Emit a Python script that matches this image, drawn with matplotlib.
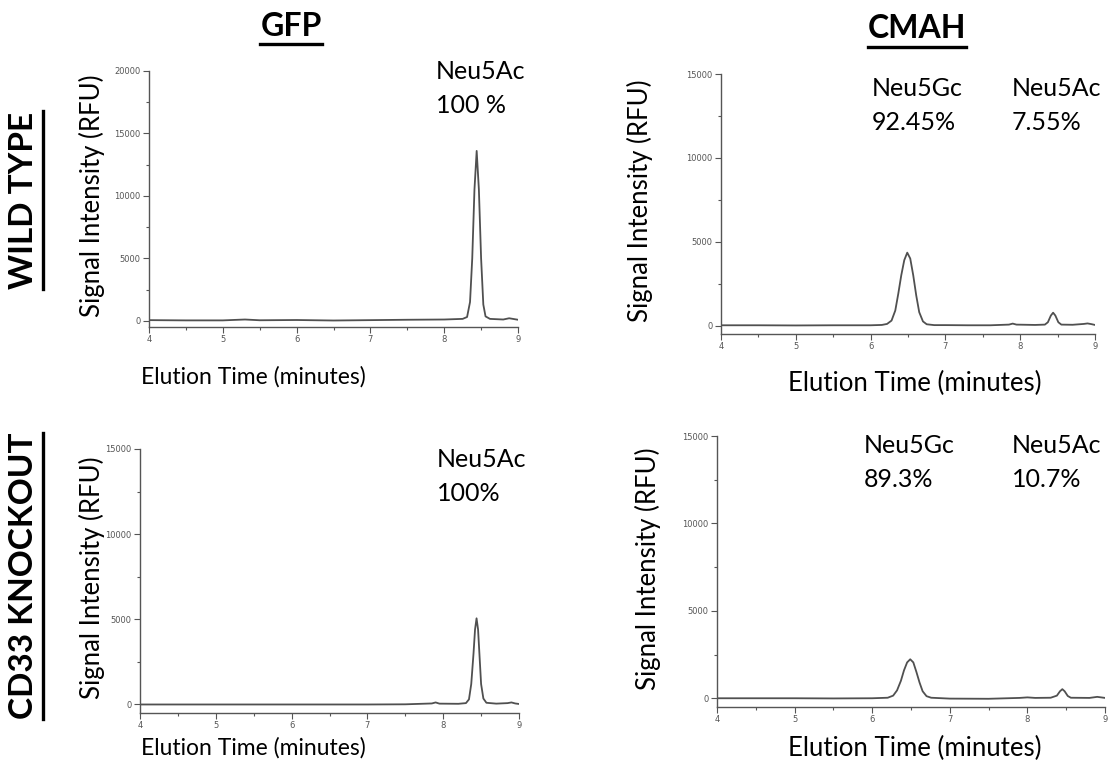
import matplotlib
matplotlib.use('Agg')
import matplotlib.pyplot as plt
from matplotlib.lines import Line2D
from matplotlib.ticker import MultipleLocator

# GFP, wild type
gfp_wt_time = [4.0, 4.5, 5.0, 5.3, 5.5, 6.0, 6.5, 7.0, 7.5, 8.0, 8.25, 8.31, 8.35, 8.38, 8.41, 8.44,
               8.47, 8.50, 8.53, 8.56, 8.62, 8.8, 8.88, 8.93, 9.0]
gfp_wt_rfu = [50, 30, 30, 100, 40, 60, 20, 50, 80, 100, 150, 300, 1500, 5000, 10500, 13600,
              10500, 5000, 1300, 350, 150, 100, 200, 150, 80]

# CMAH, wild type
cmah_wt_time = [4.0, 4.5, 5.0, 5.5, 6.0, 6.15, 6.22, 6.28, 6.33, 6.37, 6.41, 6.45, 6.49, 6.53, 6.57,
                6.61, 6.65, 6.70, 6.75, 6.85, 7.0, 7.3, 7.6, 7.85, 7.9, 7.95, 8.2, 8.33, 8.37, 8.41,
                8.44, 8.47, 8.51, 8.55, 8.7, 8.85, 8.9, 8.95, 9.0]
cmah_wt_rfu = [20, 20, 10, 20, 20, 40, 100, 300, 900, 1900, 3000, 3900, 4350, 4000, 3000,
               1800, 800, 250, 80, 30, 30, 20, 20, 60, 120, 60, 40, 60, 200, 600,
               770, 600, 200, 60, 50, 100, 130, 90, 40]

# GFP, CD33 knockout
gfp_ko_time = [4.0, 5.0, 6.0, 7.0, 7.5, 7.85, 7.9, 7.95, 8.2, 8.3, 8.34, 8.37, 8.40, 8.42, 8.44,
               8.46, 8.48, 8.50, 8.53, 8.57, 8.7, 8.85, 8.9, 8.95, 9.0]
gfp_ko_rfu = [0, 0, 0, 0, 10, 60, 120, 50, 40, 80, 300, 1200, 3000, 4400, 5060,
              4400, 2800, 1200, 350, 100, 50, 80, 120, 60, 30]

# CMAH, CD33 knockout
cmah_ko_time = [4.0, 5.0, 5.5, 6.0, 6.2, 6.27, 6.32, 6.37, 6.41, 6.45, 6.49, 6.53, 6.57, 6.61, 6.65,
                6.70, 6.76, 7.0, 7.5, 7.9, 8.0, 8.1, 8.3, 8.38, 8.42, 8.45, 8.48, 8.52, 8.56, 8.8,
                8.9, 8.95, 9.0]
cmah_ko_rfu = [0, 0, -10, 0, 30, 150, 450, 1000, 1600, 2050, 2230, 2050, 1500, 900, 400,
               120, 30, -20, -30, 20, 50, 20, 30, 150, 400, 520, 400, 130, 30, 20,
               80, 50, 20]

col_titles = ['GFP', 'CMAH']
row_titles = ['WILD TYPE', 'CD33 KNOCKOUT']
peak_names = [['Neu5Ac'], ['Neu5Gc', 'Neu5Ac'], ['Neu5Ac'], ['Neu5Gc', 'Neu5Ac']]
peak_pcts = [['100 %'], ['92.45%', '7.55%'], ['100%'], ['89.3%', '10.7%']]

W, H = 1111, 772
fig = plt.figure(figsize=(W / 100, H / 100), dpi=100)
font = 'Lato'

# axes boxes in pixels: left, right, top(ymax), bottom(x axis)
boxes = [(149, 518, 71, 327), (721, 1095, 74, 334), (140, 519, 449, 713), (717, 1105, 436, 707)]
ymaxs = [20000, 15000, 15000, 15000]
times = [gfp_wt_time, cmah_wt_time, gfp_ko_time, cmah_ko_time]
rfus = [gfp_wt_rfu, cmah_wt_rfu, gfp_ko_rfu, cmah_ko_rfu]
# text positions (pixels)
ann_x = [[436], [872, 1012], [437], [864, 1012]]
ann_y = [60, 77, 448, 434]
ylab_x = [92, 640, 92, 648]
xlab_x = [253, 915, 253, 915]
xlab_y = [377, 383, 748, 748]
xlab_size = [16.5, 18.5, 16.5, 18.5]

for i in range(4):
    l, r, t, b = boxes[i]
    ax = fig.add_axes([l / W, 1 - b / H, (r - l) / W, (b - t) / H])
    ax.plot(times[i], rfus[i], color='#505050', lw=1.3)
    ax.set_xlim(4, 9)
    ax.set_ylim(-500, ymaxs[i])
    ax.spines['top'].set_visible(False)
    ax.spines['right'].set_visible(False)
    for s in ['left', 'bottom']:
        ax.spines[s].set_color('#555555')
        ax.spines[s].set_linewidth(1.0)
    ax.xaxis.set_major_locator(MultipleLocator(1))
    ax.xaxis.set_minor_locator(MultipleLocator(0.5))
    ax.yaxis.set_major_locator(MultipleLocator(5000))
    ax.yaxis.set_minor_locator(MultipleLocator(2500))
    ax.tick_params(which='major', direction='out', length=4, width=0.8, color='#555555',
                   labelsize=6, labelcolor='#555555', pad=2)
    ax.tick_params(which='minor', direction='out', length=2, width=0.8, color='#555555')
    ax.set_yticks([v for v in range(0, ymaxs[i] + 1, 5000)])
    ax.patch.set_alpha(0)

    fig.text(xlab_x[i] / W, 1 - xlab_y[i] / H, 'Elution Time (minutes)', family=font,
             fontsize=xlab_size[i], ha='center', va='center')
    fig.text(ylab_x[i] / W, 1 - ((t + b) / 2 - 3) / H, 'Signal Intensity (RFU)', family=font,
             fontsize=18.5, rotation=90, ha='center', va='center')
    for j in range(len(peak_names[i])):
        fig.text(ann_x[i][j] / W, 1 - ann_y[i] / H, peak_names[i][j] + '\n' + peak_pcts[i][j],
                 family=font, fontsize=18, ha='left', va='top', linespacing=1.6)

# column and row headers, underlined
headers = []
headers.append(fig.text(291 / W, 1 - 26 / H, col_titles[0], family=font, fontsize=23,
                        fontweight='bold', ha='center', va='center'))
headers.append(fig.text(917 / W, 1 - 29 / H, col_titles[1], family=font, fontsize=23,
                        fontweight='bold', ha='center', va='center'))
headers.append(fig.text(24 / W, 1 - 200 / H, row_titles[0], family=font, fontsize=24,
                        fontweight='bold', rotation=90, ha='center', va='center'))
headers.append(fig.text(24 / W, 1 - 576 / H, row_titles[1], family=font, fontsize=24,
                        fontweight='bold', rotation=90, ha='center', va='center'))

fig.canvas.draw()
renderer = fig.canvas.get_renderer()
for k, txt in enumerate(headers):
    bb = txt.get_window_extent(renderer)
    if k < 2:
        y = (bb.y0 - 3) / H
        fig.add_artist(Line2D([bb.x0 / W, bb.x1 / W], [y, y], color='black', lw=2.4))
    else:
        x = (bb.x1 + 4) / W
        fig.add_artist(Line2D([x, x], [bb.y0 / H, bb.y1 / H], color='black', lw=2.4))

fig.savefig('out.png', dpi=100)
